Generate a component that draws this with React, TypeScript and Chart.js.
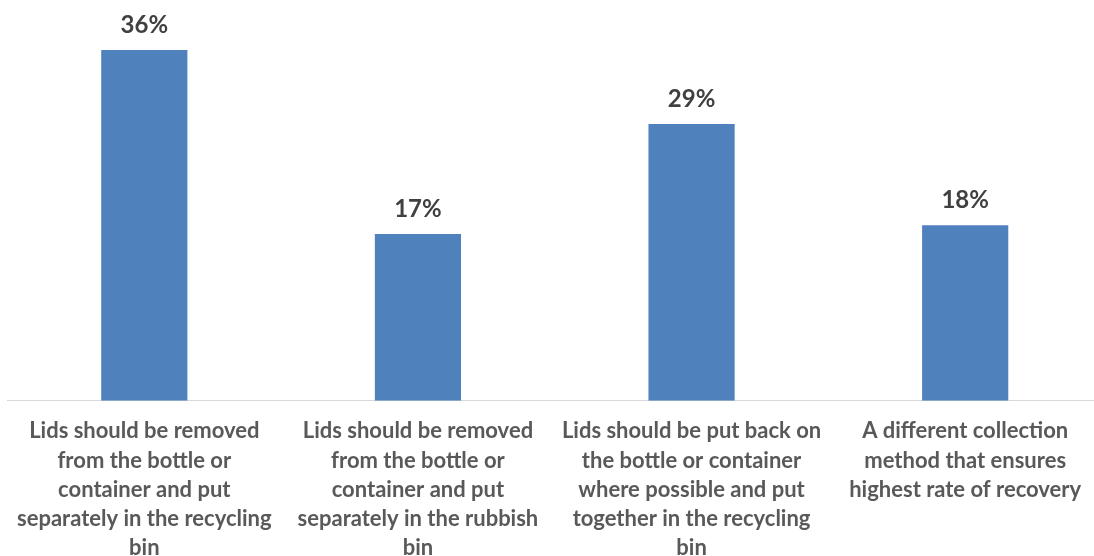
import React, { useEffect, useRef } from "react";
import { Chart, registerables } from "chart.js";

Chart.register(...registerables);

const categories: string[][] = [
  ["Lids should be removed", "from the bottle or", "container and put", "separately in the recycling", "bin"],
  ["Lids should be removed", "from the bottle or", "container and put", "separately in the rubbish", "bin"],
  ["Lids should be put back on", "the bottle or container", "where possible and put", "together in the recycling", "bin"],
  ["A different collection", "method that ensures", "highest rate of recovery"],
];
const values: number[] = [36, 17.1, 28.4, 18];
const valueLabels: string[] = ["36%", "17%", "29%", "18%"];

const FONT = "Lato, 'Open Sans', sans-serif";

const labelPlugin = {
  id: "valueLabels",
  afterDatasetsDraw(chart: any) {
    const ctx = chart.ctx;
    const meta = chart.getDatasetMeta(0);
    ctx.save();
    ctx.font = `bold 24px ${FONT}`;
    ctx.fillStyle = "#404040";
    ctx.textAlign = "center";
    ctx.textBaseline = "alphabetic";
    meta.data.forEach((bar: any, i: number) => {
      ctx.fillText(valueLabels[i], bar.x, bar.y - 17);
    });
    ctx.restore();
  },
};

export default function App() {
  const ref = useRef<HTMLCanvasElement>(null);
  useEffect(() => {
    if (!ref.current) return;
    const chart = new Chart(ref.current, {
      type: "bar",
      data: {
        labels: categories,
        datasets: [
          {
            data: values,
            backgroundColor: "#4F81BD",
            borderWidth: 0,
            categoryPercentage: 1,
            barPercentage: 0.315,
          },
        ],
      },
      options: {
        animation: false,
        responsive: false,
        maintainAspectRatio: false,
        layout: { padding: { top: 11, left: 0, right: 0, bottom: 0 } },
        plugins: { legend: { display: false }, tooltip: { enabled: false } },
        scales: {
          x: {
            grid: { display: false, drawTicks: false },
            border: { display: true, color: "#D9D9D9", width: 1 },
            ticks: {
              color: "#595959",
              font: { family: FONT, size: 22, weight: "bold", lineHeight: 1.33 },
              padding: 16,
              maxRotation: 0,
              autoSkip: false,
            },
          },
          y: {
            display: false,
            min: 0,
            max: 40,
          },
        },
      },
      plugins: [labelPlugin],
    });
    return () => chart.destroy();
  }, []);
  return (
    <div style={{ position: "absolute", left: 0, top: 0, width: 1094, height: 556, overflow: "hidden", background: "#fff" }}>
      <canvas ref={ref} width={1101} height={579} style={{ position: "absolute", left: 1, top: 0 }} />
    </div>
  );
}
